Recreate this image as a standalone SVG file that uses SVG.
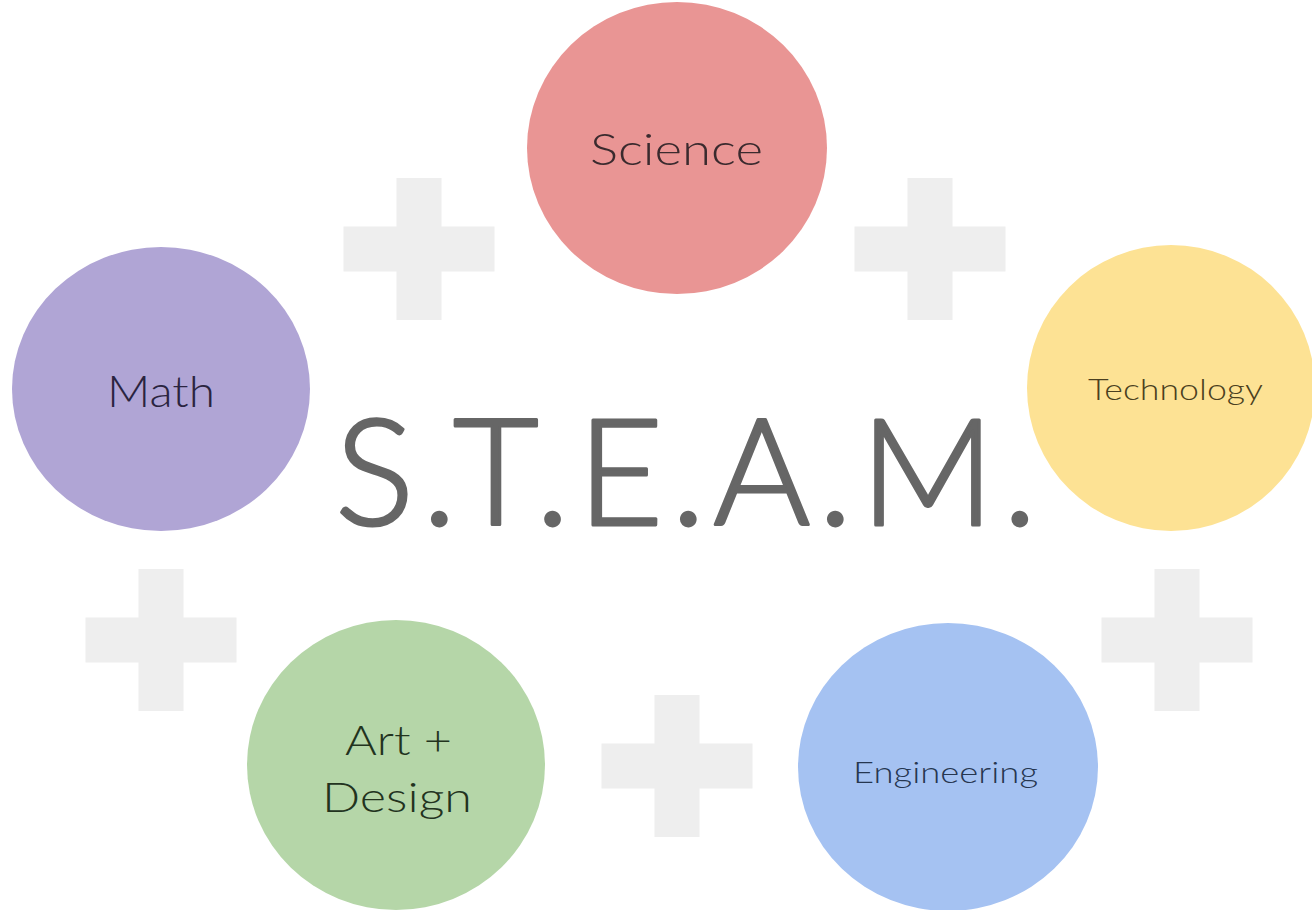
<svg xmlns="http://www.w3.org/2000/svg" width="1312" height="910" viewBox="0 0 1312 910">
<style>
.plus{fill:#eeeeee}
.lbl{font-family:Lato,"Open Sans","Liberation Sans",sans-serif;font-weight:300;text-anchor:start}
.title{font-family:Lato,"Open Sans","Liberation Sans",sans-serif;font-weight:300;fill:#666666;stroke:#666666;stroke-width:3;stroke-linejoin:round}
</style>
<defs>
<path id="plus" d="M-22.5,-71 H22.5 V-22.5 H75.5 V22.5 H22.5 V71 H-22.5 V22.5 H-75.5 V-22.5 H-22.5 Z"/>
</defs>
<rect width="1312" height="910" fill="#ffffff"/>
<g id="connectors">
<use href="#plus" class="plus" x="419" y="249"/>
<use href="#plus" class="plus" x="930" y="249"/>
<use href="#plus" class="plus" x="161" y="640"/>
<use href="#plus" class="plus" x="1177" y="640"/>
<use href="#plus" class="plus" x="677" y="766"/>
</g>
<g id="science">
<ellipse cx="677" cy="148" rx="150" ry="146" fill="#e99594"/>
<text class="lbl" x="590" y="165" font-size="44" fill="#3a2a2e" textLength="173" lengthAdjust="spacingAndGlyphs">Science</text>
</g>
<g id="math">
<ellipse cx="161" cy="389" rx="149" ry="142" fill="#b0a5d5"/>
<text class="lbl" x="107" y="407" font-size="44" fill="#2a2440" textLength="108" lengthAdjust="spacingAndGlyphs">Math</text>
</g>
<g id="technology">
<ellipse cx="1171" cy="388" rx="144" ry="143" fill="#fde294"/>
<text class="lbl" x="1088" y="400" font-size="30" fill="#4a3f20" textLength="175" lengthAdjust="spacingAndGlyphs">Technology</text>
</g>
<g id="art-design">
<ellipse cx="396" cy="765" rx="149" ry="145" fill="#b5d6a8"/>
<text class="lbl" x="345" y="755" font-size="42" fill="#22331e" textLength="107" lengthAdjust="spacingAndGlyphs">Art +</text>
<text class="lbl" x="322" y="812" font-size="42" fill="#22331e" textLength="150" lengthAdjust="spacingAndGlyphs">Design</text>
</g>
<g id="engineering">
<ellipse cx="948" cy="767" rx="150" ry="144" fill="#a5c2f2"/>
<text class="lbl" x="853" y="783" font-size="29" fill="#263650" textLength="185" lengthAdjust="spacingAndGlyphs">Engineering</text>
</g>
<g id="steam">
<text class="title" x="335" y="525" font-size="148" textLength="702" lengthAdjust="spacing">S.T.E.A.M.</text>
</g>
</svg>
